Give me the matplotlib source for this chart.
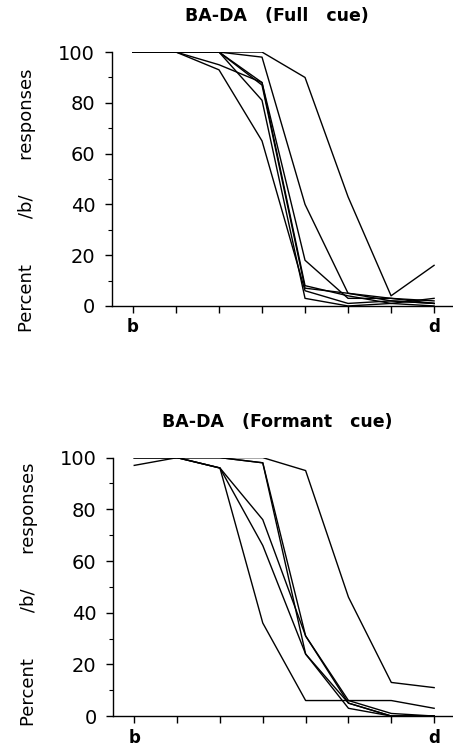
import matplotlib.pyplot as plt

# stimulus continuum steps (b ... d)
steps = [1, 2, 3, 4, 5, 6, 7, 8]
step_labels = ['b', '', '', '', '', '', '', 'd']

# Percent /b/ responses per listener, full cue
full_cue = [
    [100, 100, 100, 100, 90, 43, 4, 16],
    [100, 100, 100, 98, 40, 5, 2, 1],
    [100, 100, 100, 88, 18, 3, 3, 2],
    [100, 100, 95, 88, 8, 4, 1, 3],
    [100, 100, 93, 65, 6, 1, 2, 1],
    [100, 100, 100, 81, 3, 0, 1, 0],
    [100, 100, 100, 87, 7, 5, 3, 1],
]

# Percent /b/ responses per listener, formant cue
formant_cue = [
    [100, 100, 100, 100, 95, 46, 13, 11],
    [100, 100, 100, 98, 31, 6, 1, 0],
    [97, 100, 100, 98, 24, 5, 0, 0],
    [100, 100, 96, 76, 31, 5, 0, 0],
    [100, 100, 96, 66, 24, 3, 0, 0],
    [100, 100, 96, 36, 6, 6, 6, 3],
]

titles = ['BA-DA   (Full   cue)', 'BA-DA   (Formant   cue)']
ylab = 'Percent' + ' ' * 8 + '/b/' + ' ' * 6 + 'responses'


def draw_panel(ax, curves, title, label_y):
    for c in curves:
        ax.plot(steps, c, color='black', lw=1.0)
    ax.set_xlim(0.51, 8.44)
    ax.set_ylim(0, 100)
    ax.spines['top'].set_visible(False)
    ax.spines['right'].set_visible(False)
    ax.spines['left'].set_linewidth(1.0)
    ax.spines['bottom'].set_linewidth(1.0)
    ax.set_xticks(steps)
    ax.set_xticklabels(step_labels, fontsize=12, fontweight='bold')
    ax.set_yticks([0, 20, 40, 60, 80, 100])
    ax.set_yticks(range(10, 100, 20), minor=True)
    ax.tick_params(axis='y', which='major', length=5, width=1, labelsize=14, pad=7)
    ax.tick_params(axis='y', which='minor', length=3, width=0.8)
    ax.tick_params(axis='x', length=5, width=1, pad=4)
    ax.set_ylabel(ylab, fontsize=13)
    ax.yaxis.set_label_coords(-0.222, label_y)
    ax.set_title(title, fontsize=12.5, fontweight='semibold', pad=22, x=0.484)


fig = plt.figure(figsize=(4.53, 7.49), dpi=100)
ax1 = fig.add_axes([0.247, 0.5915, 0.753, 0.339])
draw_panel(ax1, full_cue, titles[0], 0.415)
ax2 = fig.add_axes([0.25, 0.044, 0.75, 0.345])
draw_panel(ax2, formant_cue, titles[1], 0.47)

fig.savefig('out.png', dpi=100)
